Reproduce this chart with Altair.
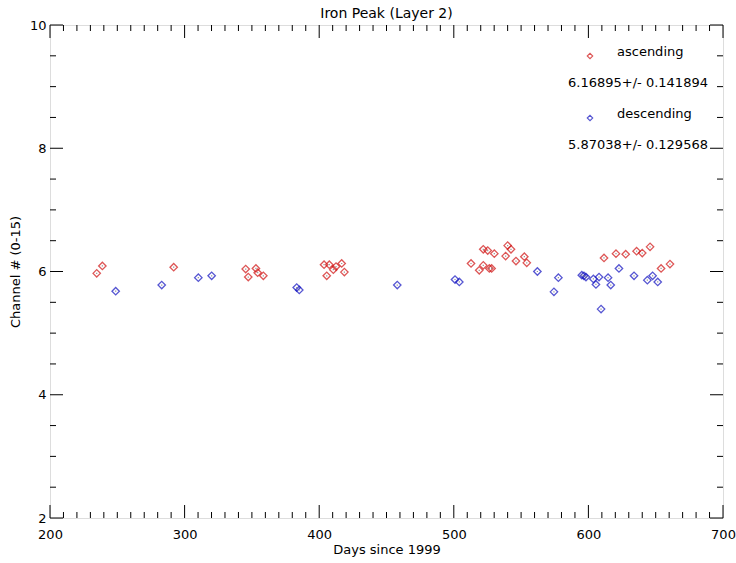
import altair as alt
import pandas as pd

# Ascending passes: day since 1999, peak channel
asc_day = [234.7, 238.9, 291.9, 345.4, 347.3, 353.0, 354.3, 358.5,
           403.6, 405.6, 407.5, 410.5, 412.5, 416.7, 418.7,
           512.8, 518.9, 521.9, 521.9, 525.2, 526.4, 528.1, 530.1,
           538.5, 540.0, 542.5, 546.2, 552.4, 554.2,
           611.6, 620.5, 627.7, 635.8, 640.0, 645.8, 654.0, 660.6]
asc_val = [5.97, 6.09, 6.07, 6.04, 5.91, 6.05, 5.98, 5.93,
           6.11, 5.93, 6.11, 6.03, 6.08, 6.13, 5.99,
           6.13, 6.02, 6.10, 6.36, 6.34, 6.05, 6.05, 6.29,
           6.25, 6.42, 6.36, 6.17, 6.24, 6.14,
           6.22, 6.29, 6.28, 6.33, 6.30, 6.40, 6.05, 6.12]

# Descending passes
desc_day = [248.8, 283.0, 310.2, 320.1, 383.3, 385.2, 458.0, 500.9, 504.1,
            562.1, 574.4, 577.7, 595.1, 596.7, 598.2, 603.7, 605.6, 607.9,
            609.4, 614.6, 616.6, 622.7, 633.9, 643.8, 647.7, 651.5]
desc_val = [5.68, 5.78, 5.90, 5.93, 5.74, 5.70, 5.78, 5.87, 5.83,
            6.00, 5.67, 5.90, 5.94, 5.93, 5.91, 5.88, 5.79, 5.91,
            5.39, 5.90, 5.78, 6.05, 5.93, 5.86, 5.93, 5.83]

asc_stats = "6.16895+/- 0.141894"
desc_stats = "5.87038+/- 0.129568"

x_major = [200, 300, 400, 500, 600, 700]
y_major = [2, 4, 6, 8, 10]
x_minor = [v for v in range(200, 701, 10) if v % 100 != 0]
y_minor = [v / 2 for v in range(4, 21) if v % 4 != 0]

W, H = 673, 493
FONT = "DejaVu Sans"
FS = 13
RED = "#d01010"
BLUE = "#1010c0"

xs = alt.Scale(domain=[200, 700], nice=False, zero=False)
ys = alt.Scale(domain=[2, 10], nice=False, zero=False)

x_axis = alt.Axis(values=x_major, tickSize=0, grid=False, domain=False, labelFlush=False,
                  labelFont=FONT, labelFontSize=FS, labelPadding=10,
                  titleFont=FONT, titleFontSize=FS, titleFontWeight="normal",
                  titlePadding=2, labelColor="black", titleColor="black")
y_axis = alt.Axis(values=y_major, tickSize=0, grid=False, domain=False, labelFlush=False,
                  labelFont=FONT, labelFontSize=FS, labelPadding=4,
                  titleFont=FONT, titleFontSize=FS, titleFontWeight="normal",
                  titlePadding=7, labelColor="black", titleColor="black")


def X(field):
    return alt.X(field, type="quantitative", scale=xs, axis=x_axis, title="Days since 1999")


def Y(field):
    return alt.Y(field, type="quantitative", scale=ys, axis=y_axis, title="Channel # (0-15)")


asc = pd.DataFrame({"day": asc_day, "chan": asc_val})
desc = pd.DataFrame({"day": desc_day, "chan": desc_val})


def xticks(vals, length):
    d = pd.DataFrame({"t": vals})
    top = alt.Chart(d).mark_rule(color="black", strokeWidth=1).encode(
        x=X("t"), y=alt.value(0), y2=alt.value(length))
    bot = alt.Chart(d).mark_rule(color="black", strokeWidth=1).encode(
        x=X("t"), y=alt.value(H), y2=alt.value(H - length))
    return [top, bot]


def yticks(vals, length):
    d = pd.DataFrame({"t": vals})
    left = alt.Chart(d).mark_rule(color="black", strokeWidth=1).encode(
        y=Y("t"), x=alt.value(0), x2=alt.value(length))
    right = alt.Chart(d).mark_rule(color="black", strokeWidth=1).encode(
        y=Y("t"), x=alt.value(W), x2=alt.value(W - length))
    return [left, right]


ticks = xticks(x_major, 13) + xticks(x_minor, 6) + yticks(y_major, 13) + yticks(y_minor, 6)

pts_asc = alt.Chart(asc).mark_point(shape="diamond", size=55, filled=False,
                                    color=RED, strokeWidth=1.3).encode(x=X("day"), y=Y("chan"))
pts_desc = alt.Chart(desc).mark_point(shape="diamond", size=55, filled=False,
                                      color=BLUE, strokeWidth=1.3).encode(x=X("day"), y=Y("chan"))
dots = alt.Chart(pd.concat([asc, desc])).mark_point(
    shape="square", size=1.5, filled=True, color="#666666").encode(x=X("day"), y=Y("chan"))

# Legend block in the upper right of the plot
leg_text = dict(font=FONT, fontSize=FS, color="black", baseline="middle")
one = pd.DataFrame({"k": [0]})
leg = [
    alt.Chart(one).mark_point(shape="diamond", size=30, color=RED, strokeWidth=1.1).encode(
        x=alt.value(540), y=alt.value(31)),
    alt.Chart(one).mark_text(text="ascending", align="left", **leg_text).encode(
        x=alt.value(567), y=alt.value(27)),
    alt.Chart(one).mark_text(text=asc_stats, align="center", **leg_text).encode(
        x=alt.value(588), y=alt.value(58)),
    alt.Chart(one).mark_point(shape="diamond", size=30, color=BLUE, strokeWidth=1.1).encode(
        x=alt.value(540), y=alt.value(93)),
    alt.Chart(one).mark_text(text="descending", align="left", **leg_text).encode(
        x=alt.value(567), y=alt.value(89)),
    alt.Chart(one).mark_text(text=desc_stats, align="center", **leg_text).encode(
        x=alt.value(588), y=alt.value(120)),
]

chart = alt.layer(pts_asc, pts_desc, dots, *ticks, *leg).properties(
    width=W, height=H,
    title=alt.TitleParams("Iron Peak (Layer 2)", font=FONT, fontSize=14,
                          fontWeight="normal", color="black", offset=5, dy=7),
    autosize=alt.AutoSizeParams(type="none"),
    padding={"left": 50, "top": 25, "right": 13, "bottom": 45},
).configure_view(stroke="black", strokeWidth=1).configure(background="white")

chart.save("out.html", embed_options={"renderer": "svg", "actions": False})
